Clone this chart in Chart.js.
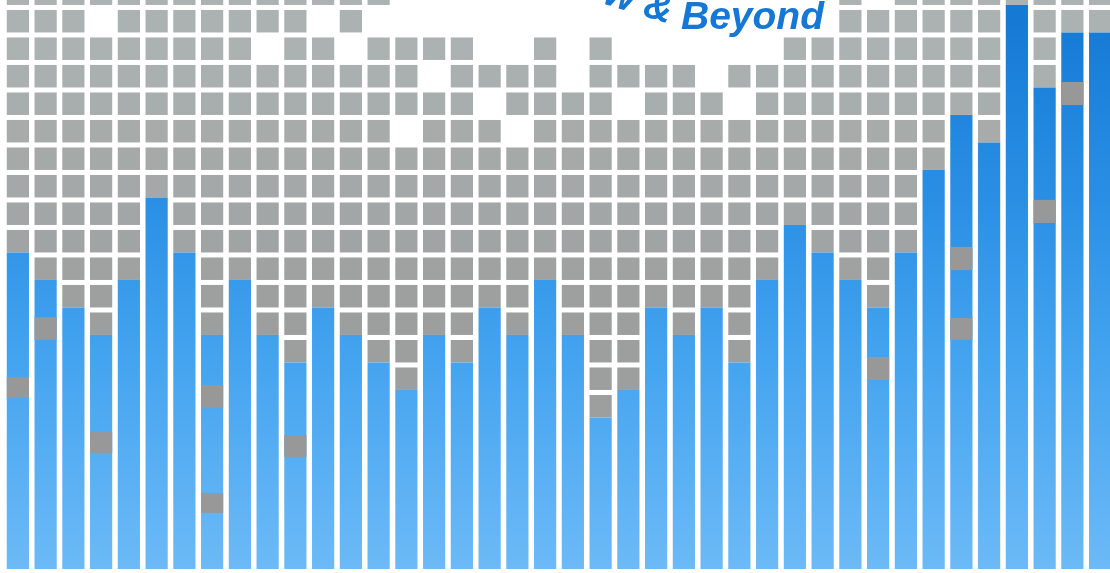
<!DOCTYPE html>
<html>
<head>
<meta charset="utf-8">
<script src="https://cdn.jsdelivr.net/npm/chart.js@4.4.0/dist/chart.umd.min.js"></script>
<style>
  html, body { margin: 0; padding: 0; background: #fff; overflow: hidden; }
  #wrap { position: relative; width: 1114px; height: 573px; }
</style>
</head>
<body>
<div id="wrap"><canvas id="bars"></canvas></div>
<script>
// one column per category, heights counted in grid rows
var labels = ['1','2','3','4','5','6','7','8','9','10','11','12','13','14','15','16','17','18','19','20',
              '21','22','23','24','25','26','27','28','29','30','31','32','33','34','35','36','37','38','39','40'];
var barLevels = [11, 10, 9, 8, 10, 13, 11, 8, 10, 8, 7, 9, 8, 7, 6, 8, 7, 9, 8, 10,
                 8, 5, 6, 9, 8, 9, 7, 10, 12, 11, 10, 9, 11, 14, 16, 15, 20, 17, 19, 19];

// grey cells sitting inside the blue bars: [column, from, to]
var insetCells = [[0, 5.71, 6.47], [1, 7.82, 8.65], [3, 3.71, 4.47], [7, 5.35, 6.18], [7, 1.53, 2.25],
                  [10, 3.56, 4.36], [31, 6.36, 7.2], [34, 10.36, 11.2], [34, 7.82, 8.62],
                  [37, 12.07, 12.91], [38, 16.36, 17.2]];

// grid cells left blank, by row level
var missingCells = {
  20: [14, 15, 16, 17, 18, 19, 20, 21, 22, 23, 24, 25, 26, 27, 28, 29, 31],
  19: [3, 11, 13, 14, 15, 16, 17, 18, 19, 20, 21, 22, 23, 24, 25, 26, 27, 28, 29],
  18: [9, 12, 17, 18, 20, 22, 23, 24, 25, 26, 27],
  17: [15, 20, 25],
  16: [17, 22, 26],
  15: [14, 18]
};

var Y_MIN = -0.51, Y_MAX = 20.18, CELL = 0.818, TOP_LEVEL = 20;

var blueGrad = null;
function blueFill(ctx) {
  var chart = ctx.chart, area = chart.chartArea;
  if (!area) return '#3a9cec';
  if (!blueGrad) {
    blueGrad = chart.ctx.createLinearGradient(0, area.top, 0, area.bottom);
    blueGrad.addColorStop(0, '#1478d4');
    blueGrad.addColorStop(0.35, '#2a8fe4');
    blueGrad.addColorStop(0.62, '#43a3ef');
    blueGrad.addColorStop(1, '#6cbaf7');
  }
  return blueGrad;
}

function grayFor(k) {
  var t = Math.max(0, Math.min(1, (k - 8) / 10));
  var lo = [157, 158, 158], hi = [171, 178, 177];
  var c = lo.map(function (v, i) { return Math.round(v + (hi[i] - v) * t); });
  return 'rgb(' + c.join(',') + ')';
}

var datasets = [];

var insetLayers = [], seen = {};
insetCells.forEach(function (c) {
  var n = seen[c[0]] || 0;
  seen[c[0]] = n + 1;
  if (!insetLayers[n]) insetLayers[n] = labels.map(function () { return null; });
  insetLayers[n][c[0]] = [c[1], c[2]];
});
insetLayers.forEach(function (d) {
  datasets.push({ data: d, backgroundColor: '#989898', order: 0 });
});

datasets.push({
  data: barLevels.map(function (v) { return [Y_MIN, v]; }),
  backgroundColor: blueFill,
  order: 1
});

for (var k = 0; k <= TOP_LEVEL; k++) {
  var gone = missingCells[k] || [];
  datasets.push({
    data: barLevels.map(function (v, i) {
      return (k >= v && gone.indexOf(i) < 0) ? [k, k + CELL] : null;
    }),
    backgroundColor: grayFor(k),
    order: 2
  });
}

var titlePlugin = {
  id: 'title',
  afterDraw: function (chart) {
    var c = chart.ctx;
    c.save();
    c.fillStyle = '#1577d6';
    c.font = 'italic bold 39px "Liberation Sans", Arial, sans-serif';
    c.fillText('Beyond', 681, 29);
    // the words before it curve up out of the frame
    c.translate(676, 26);
    c.rotate(0.3);
    c.textAlign = 'right';
    c.fillText('Now &', -8, 0);
    c.restore();
  }
};

new Chart(document.getElementById('bars'), {
  type: 'bar',
  data: { labels: labels, datasets: datasets },
  options: {
    responsive: true,
    maintainAspectRatio: false,
    animation: false,
    events: [],
    layout: { padding: { left: 4, right: 0, top: 0, bottom: 4 } },
    datasets: {
      bar: { grouped: false, barPercentage: 0.8, categoryPercentage: 1, borderWidth: 0 }
    },
    plugins: { legend: { display: false }, tooltip: { enabled: false } },
    scales: {
      x: { display: false },
      y: { display: false, min: Y_MIN, max: Y_MAX }
    }
  },
  plugins: [titlePlugin]
});
</script>
</body>
</html>
